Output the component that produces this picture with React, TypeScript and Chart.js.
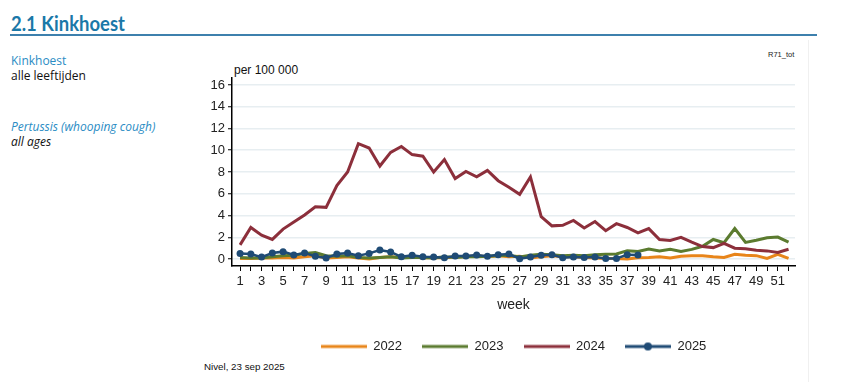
import React, { useEffect, useRef } from "react";
import { Chart, registerables } from "chart.js";

Chart.register(...registerables);

const weeks = [1, 2, 3, 4, 5, 6, 7, 8, 9, 10, 11, 12, 13, 14, 15, 16, 17, 18, 19, 20, 21, 22, 23, 24, 25, 26, 27, 28, 29, 30, 31, 32, 33, 34, 35, 36, 37, 38, 39, 40, 41, 42, 43, 44, 45, 46, 47, 48, 49, 50, 51, 52];

const series2022 = [0.05, 0.05, 0.1, 0.1, 0.15, 0.1, 0.2, 0.3, 0.1, 0.15, 0.2, 0.1, 0.0, 0.15, 0.2, 0.15, 0.2, 0.1, 0.15, 0.1, 0.2, 0.2, 0.3, 0.2, 0.3, 0.2, 0.25, 0.1, 0.2, 0.3, 0.2, 0.2, 0.15, 0.1, 0.06, 0.05, 0.0, 0.12, 0.15, 0.21, 0.09, 0.25, 0.31, 0.3, 0.21, 0.15, 0.43, 0.34, 0.31, 0.06, 0.43, 0.06];
const series2023 = [0.15, 0.1, 0.1, 0.2, 0.3, 0.35, 0.5, 0.6, 0.3, 0.25, 0.3, 0.15, 0.1, 0.15, 0.2, 0.1, 0.15, 0.15, 0.1, 0.2, 0.15, 0.2, 0.2, 0.25, 0.3, 0.35, 0.2, 0.35, 0.45, 0.4, 0.3, 0.35, 0.3, 0.4, 0.43, 0.46, 0.77, 0.7, 0.92, 0.74, 0.89, 0.7, 0.89, 1.17, 1.8, 1.5, 2.8, 1.53, 1.72, 1.96, 2.02, 1.56];
const series2024 = [1.3, 2.9, 2.2, 1.8, 2.75, 3.4, 4.05, 4.8, 4.75, 6.75, 8.0, 10.6, 10.2, 8.55, 9.8, 10.35, 9.6, 9.45, 8.0, 9.15, 7.4, 8.05, 7.55, 8.15, 7.2, 6.6, 5.95, 7.55, 3.9, 3.05, 3.1, 3.55, 2.85, 3.45, 2.6, 3.25, 2.9, 2.4, 2.8, 1.8, 1.7, 2.0, 1.55, 1.15, 1.05, 1.45, 1.0, 0.95, 0.8, 0.75, 0.6, 0.9];
const series2025 = [0.52, 0.46, 0.18, 0.55, 0.68, 0.37, 0.55, 0.25, 0.09, 0.46, 0.55, 0.31, 0.52, 0.83, 0.65, 0.2, 0.34, 0.22, 0.18, 0.12, 0.28, 0.28, 0.37, 0.25, 0.4, 0.46, 0.03, 0.18, 0.34, 0.4, 0.12, 0.18, 0.15, 0.18, 0.06, 0.06, 0.4, 0.37];

const seriesNames = ["2022", "2023", "2024", "2025"];
const seriesColors = ["#e8851a", "#5b7b2f", "#8c2f3b", "#1f4b75"];
const yTicks = [0, 2, 4, 6, 8, 10, 12, 14, 16];

const FONT = "'Liberation Sans', Arial, Helvetica, sans-serif";

function makeIcon(color: string, dot: boolean) {
  const c = document.createElement("canvas");
  c.width = 46;
  c.height = 10;
  const g = c.getContext("2d")!;
  g.strokeStyle = color;
  g.lineWidth = 3;
  g.beginPath();
  g.moveTo(0, 5);
  g.lineTo(46, 5);
  g.stroke();
  if (dot) {
    g.fillStyle = color;
    g.beginPath();
    g.arc(23, 5, 4, 0, Math.PI * 2);
    g.fill();
  }
  return c;
}

export default function App() {
  const ref = useRef<HTMLCanvasElement>(null);

  useEffect(() => {
    const all = [series2022, series2023, series2024, series2025];
    const icons = seriesColors.map((c, i) => makeIcon(c, i === 3));
    const datasets = all.map((vals, i) => ({
      label: seriesNames[i],
      data: vals.map((v, j) => ({ x: weeks[j], y: v })),
      borderColor: seriesColors[i],
      backgroundColor: seriesColors[i],
      borderWidth: i === 3 ? 2.5 : 3,
      pointRadius: i === 3 ? 3.5 : 0,
      pointBorderWidth: 0,
      tension: 0,
      fill: false,
      order: 4 - i,
    }));

    Chart.defaults.font.family = FONT;

    const chart = new Chart(ref.current!, {
      type: "line",
      data: { datasets },
      options: {
        responsive: false,
        animation: false,
        layout: { padding: { left: 192, right: 68, top: 78, bottom: 19 } },
        plugins: {
          tooltip: { enabled: false },
          legend: {
            position: "bottom",
            fullSize: false,
            labels: {
              usePointStyle: true,
              pointStyleWidth: 46,
              padding: 20,
              color: "#222",
              font: { size: 13, family: FONT },
              generateLabels: () =>
                seriesNames.map((n, i) => ({
                  text: n,
                  pointStyle: icons[i] as any,
                  fillStyle: seriesColors[i],
                  strokeStyle: seriesColors[i],
                  lineWidth: 0,
                  hidden: false,
                  datasetIndex: i,
                  fontColor: "#222",
                })),
            },
          },
        },
        scales: {
          x: {
            type: "linear",
            min: 0.25,
            max: 52.6,
            afterBuildTicks: (s: any) => {
              s.ticks = weeks.map((v) => ({ value: v }));
            },
            afterFit: (s: any) => {
              s.height = 54;
            },
            ticks: {
              callback: (v: any) => (Number(v) % 2 === 1 ? String(v) : ""),
              font: { size: 13, family: FONT },
              color: "#222",
              padding: 3,
              maxRotation: 0,
              autoSkip: false,
            },
            grid: { drawOnChartArea: false, tickLength: 5, tickColor: "#000", tickWidth: 1 },
            border: { color: "#000", width: 1.5 },
            title: {
              display: true,
              text: "week",
              font: { size: 14, family: FONT },
              color: "#222",
              padding: { top: 0, bottom: 6 },
            },
          },
          y: {
            min: -0.64,
            max: 16.64,
            afterBuildTicks: (s: any) => {
              s.ticks = yTicks.map((v) => ({ value: v }));
            },
            afterFit: (s: any) => {
              s.width = 40;
            },
            ticks: { font: { size: 13, family: FONT }, color: "#222", padding: 3 },
            grid: { color: "#e7eef1", lineWidth: 1.5, tickLength: 4, tickColor: "#000", tickWidth: 1 },
            border: { color: "#000", width: 1.5 },
          },
        },
      },
    } as any);
    return () => chart.destroy();
  }, []);

  const abs = (s: React.CSSProperties): React.CSSProperties => ({ position: "absolute", whiteSpace: "nowrap", ...s });

  return (
    <div style={{ position: "absolute", left: 0, top: 0, width: 863, height: 382, background: "#fff", overflow: "hidden" }}>
      <div style={abs({ left: 11, top: 11, fontFamily: "Lato, 'Open Sans', sans-serif", fontWeight: 700, fontSize: 20, color: "#1a78a8", lineHeight: "24px", transform: "scaleX(0.925)", transformOrigin: "left top" })}>
        2.1 Kinkhoest
      </div>
      <div style={abs({ left: 10, top: 34, width: 807, height: 2, background: "#3d80ad" })} />
      <div style={abs({ left: 808, top: 40, width: 1, height: 342, background: "#f0f0f0" })} />
      <div style={abs({ left: 11, top: 53, fontFamily: "'Open Sans', sans-serif", fontSize: 12, lineHeight: "16px", color: "#2a8cc4" })}>Kinkhoest</div>
      <div style={abs({ left: 11, top: 68, fontFamily: "'Open Sans', sans-serif", fontSize: 12, lineHeight: "16px", color: "#111" })}>alle leeftijden</div>
      <div style={abs({ left: 11, top: 119, fontFamily: "'Open Sans', sans-serif", fontSize: 12, lineHeight: "16px", color: "#2a8cc4", fontStyle: "italic" })}>Pertussis (whooping cough)</div>
      <div style={abs({ left: 11, top: 134, fontFamily: "'Open Sans', sans-serif", fontSize: 12, lineHeight: "16px", color: "#111", fontStyle: "italic" })}>all ages</div>
      <div style={abs({ left: 234, top: 62, fontFamily: FONT, fontSize: 12, lineHeight: "16px", color: "#111" })}>per 100 000</div>
      <div style={abs({ left: 768, top: 50, fontFamily: FONT, fontSize: 7.5, lineHeight: "10px", color: "#222" })}>R71_tot</div>
      <div style={abs({ left: 204, top: 361, fontFamily: FONT, fontSize: 9.75, lineHeight: "12px", color: "#111" })}>Nivel, 23 sep 2025</div>
      <canvas ref={ref} width={863} height={382} style={{ position: "absolute", left: 0, top: 0, display: "block" }} />
    </div>
  );
}
